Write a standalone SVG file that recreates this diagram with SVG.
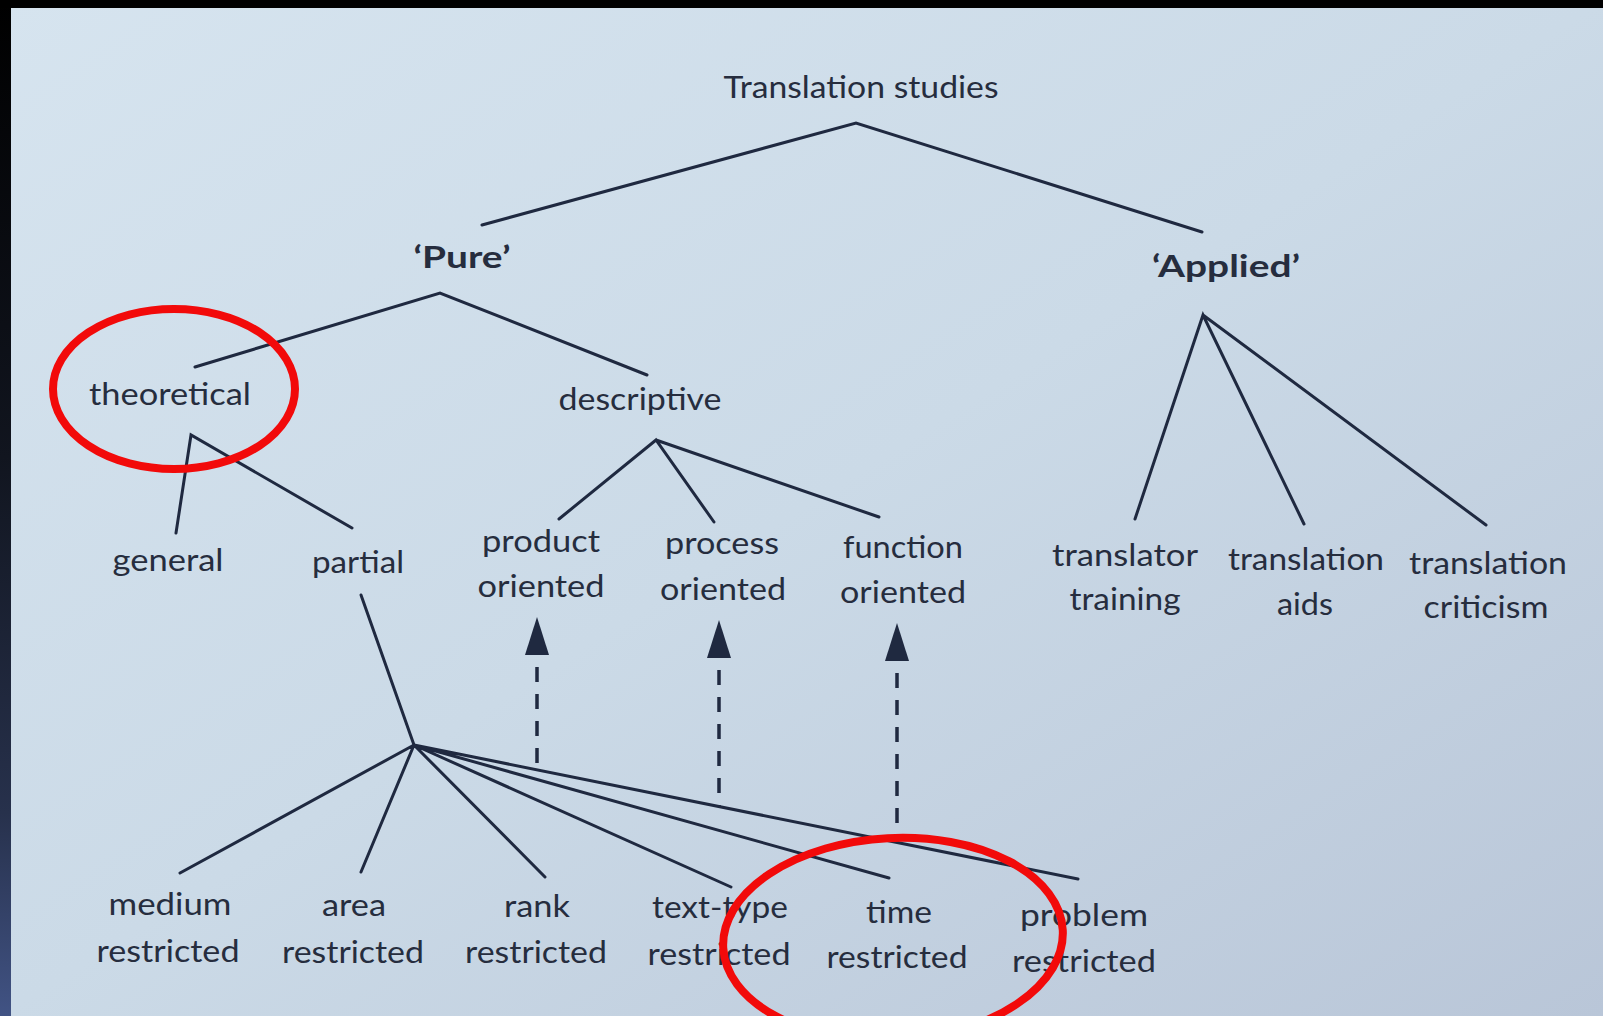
<svg xmlns="http://www.w3.org/2000/svg" width="1603" height="1016" viewBox="0 0 1603 1016">
<defs>
<linearGradient id="bg" x1="0" y1="0" x2="1" y2="1">
<stop offset="0" stop-color="#d6e4ef"/>
<stop offset="0.5" stop-color="#cbdae7"/>
<stop offset="1" stop-color="#b9c6d8"/>
</linearGradient>
<linearGradient id="edge" x1="0" y1="0" x2="0" y2="1">
<stop offset="0" stop-color="#000000"/>
<stop offset="0.45" stop-color="#11151f"/>
<stop offset="0.8" stop-color="#27314c"/>
<stop offset="1" stop-color="#415384"/>
</linearGradient>
<marker id="head" viewBox="0 0 38 24" refX="0" refY="12" markerWidth="38" markerHeight="24" markerUnits="userSpaceOnUse" orient="auto-start-reverse">
<path d="M0,0 L38,12 L0,24 Z" fill="#1f2940"/>
</marker>
<style>
text{font-family:"Lato","Liberation Sans",sans-serif;font-size:30px;fill:#262d3e;text-anchor:middle}
.b{font-weight:bold}
.ln{stroke:#1f2940;stroke-width:3;fill:none;stroke-linecap:round}
.dash{stroke:#1f2940;stroke-width:3.5;fill:none;stroke-dasharray:15 12;stroke-dashoffset:15}
.red{fill:none;stroke:#f20a0a;stroke-width:8}
</style>
</defs>
<rect x="0" y="0" width="1603" height="1016" fill="url(#bg)"/>
<rect x="0" y="0" width="11" height="1016" fill="url(#edge)"/>
<rect x="0" y="0" width="1603" height="8" fill="#000"/>

<g id="connectors">
<path class="ln" d="M482,225 L856,123 L1202,232"/>
<path class="ln" d="M195,367 L440,293 L647,375"/>
<path class="ln" d="M176,533 L191,435 L352,528"/>
<path class="ln" d="M559,519 L656,440 L714,522 M656,440 L879,517"/>
<path class="ln" d="M1135,519 L1203,315 L1304,524 M1203,315 L1486,525"/>
<path class="ln" d="M361,595 L414,745"/>
<path class="ln" d="M414,745 L180,873 M414,745 L361,872 M414,745 L545,877 M414,745 L731,887 M414,745 L889,878 M414,745 L1078,879"/>
<path class="dash" d="M537,655 L537,768" marker-start="url(#head)"/>
<path class="dash" d="M719,658 L719,806" marker-start="url(#head)"/>
<path class="dash" d="M897,661 L897,842" marker-start="url(#head)"/>
</g>

<g id="n-translation-studies"><text x="861" y="98" font-size="31" textLength="275" lengthAdjust="spacingAndGlyphs">Translation studies</text></g>
<g id="n-pure"><text class="b" x="462" y="268" textLength="97" lengthAdjust="spacingAndGlyphs">‘Pure’</text></g>
<g id="n-applied"><text class="b" x="1226" y="277" textLength="148" lengthAdjust="spacingAndGlyphs">‘Applied’</text></g>
<g id="n-theoretical"><text x="170" y="405" textLength="162" lengthAdjust="spacingAndGlyphs">theoretical</text></g>
<g id="n-descriptive"><text x="640" y="410" textLength="163" lengthAdjust="spacingAndGlyphs">descriptive</text></g>
<g id="n-general"><text x="168" y="571" textLength="111" lengthAdjust="spacingAndGlyphs">general</text></g>
<g id="n-partial"><text x="358" y="573" textLength="92" lengthAdjust="spacingAndGlyphs">partial</text></g>
<g id="n-product"><text x="541" y="552" textLength="118" lengthAdjust="spacingAndGlyphs">product</text><text x="541" y="597" textLength="127" lengthAdjust="spacingAndGlyphs">oriented</text></g>
<g id="n-process"><text x="722" y="554" textLength="114" lengthAdjust="spacingAndGlyphs">process</text><text x="723" y="600" textLength="126" lengthAdjust="spacingAndGlyphs">oriented</text></g>
<g id="n-function"><text x="903" y="558" textLength="120" lengthAdjust="spacingAndGlyphs">function</text><text x="903" y="603" textLength="126" lengthAdjust="spacingAndGlyphs">oriented</text></g>
<g id="n-translator-training"><text x="1125" y="566" textLength="146" lengthAdjust="spacingAndGlyphs">translator</text><text x="1125" y="610" textLength="111" lengthAdjust="spacingAndGlyphs">training</text></g>
<g id="n-translation-aids"><text x="1306" y="570" textLength="156" lengthAdjust="spacingAndGlyphs">translation</text><text x="1305" y="615" textLength="56" lengthAdjust="spacingAndGlyphs">aids</text></g>
<g id="n-translation-criticism"><text x="1488" y="574" textLength="158" lengthAdjust="spacingAndGlyphs">translation</text><text x="1486" y="618" textLength="125" lengthAdjust="spacingAndGlyphs">criticism</text></g>
<g id="n-medium"><text x="170" y="915" textLength="123" lengthAdjust="spacingAndGlyphs">medium</text><text x="168" y="962" textLength="143" lengthAdjust="spacingAndGlyphs">restricted</text></g>
<g id="n-area"><text x="354" y="916" textLength="64" lengthAdjust="spacingAndGlyphs">area</text><text x="353" y="963" textLength="142" lengthAdjust="spacingAndGlyphs">restricted</text></g>
<g id="n-rank"><text x="537" y="917" textLength="66" lengthAdjust="spacingAndGlyphs">rank</text><text x="536" y="963" textLength="142" lengthAdjust="spacingAndGlyphs">restricted</text></g>
<g id="n-text-type"><text x="720" y="918" textLength="136" lengthAdjust="spacingAndGlyphs">text-type</text><text x="719" y="965" textLength="143" lengthAdjust="spacingAndGlyphs">restricted</text></g>
<g id="n-time"><text x="899" y="923" textLength="66" lengthAdjust="spacingAndGlyphs">time</text><text x="897" y="968" textLength="141" lengthAdjust="spacingAndGlyphs">restricted</text></g>
<g id="n-problem"><text x="1084" y="926" textLength="128" lengthAdjust="spacingAndGlyphs">problem</text><text x="1084" y="972" textLength="144" lengthAdjust="spacingAndGlyphs">restricted</text></g>

<g id="annotations">
<ellipse class="red" cx="174" cy="389" rx="121" ry="80"/>
<ellipse class="red" cx="893" cy="939" rx="170" ry="101" transform="rotate(-3 893 939)"/>
</g>
</svg>
